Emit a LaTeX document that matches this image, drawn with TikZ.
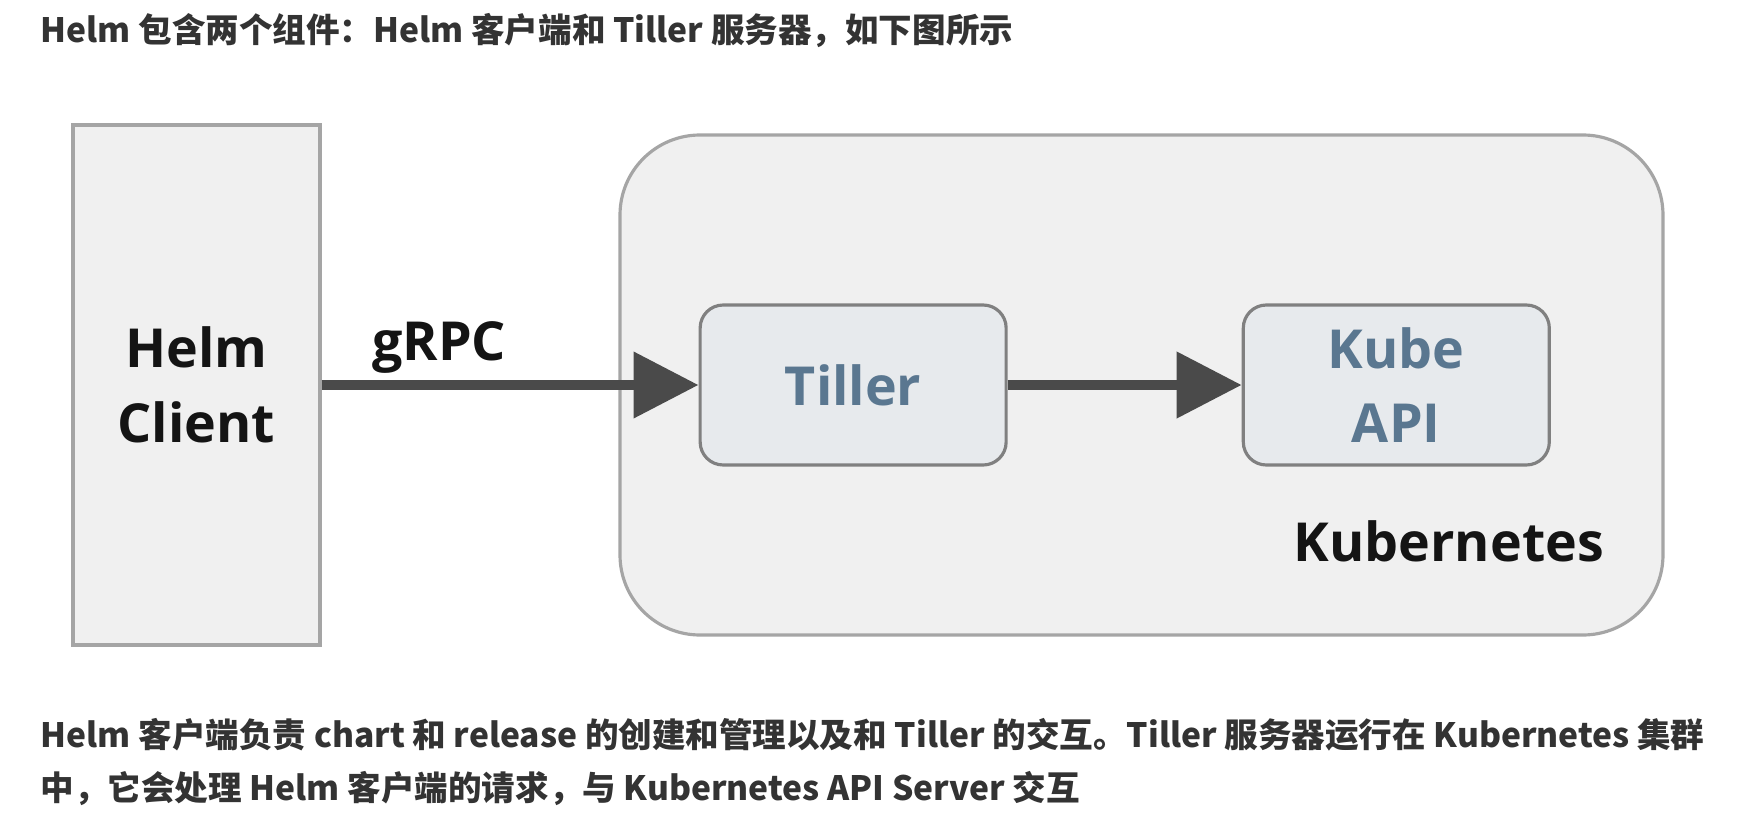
\documentclass[tikz,border=0pt]{standalone}
\usepackage{fontspec}
\setmainfont{Open Sans}
\newfontfamily\cjk{Noto Sans CJK SC}
\usetikzlibrary{arrows.meta, positioning}
\definecolor{boxfill}{HTML}{F0F0F0}
\definecolor{boxline}{HTML}{A5A5A5}
\definecolor{compfill}{HTML}{E7EAED}
\definecolor{compline}{HTML}{808080}
\definecolor{comptext}{HTML}{5A7790}
\definecolor{arrowgrey}{HTML}{4A4A4A}
\definecolor{prosegrey}{HTML}{333333}

\begin{document}
\begin{tikzpicture}[x=0.1mm, y=-0.1mm, node distance=37.7mm,
    biglabel/.style={font=\bfseries\fontsize{15.3}{21.3}\selectfont, text=black!92, align=center, inner sep=0pt},
    clientbox/.style={biglabel, draw=boxline, fill=boxfill, line width=0.9pt, minimum width=24.7mm, minimum height=52mm},
    clusterbox/.style={draw=boxline, fill=boxfill, line width=0.9pt, rounded corners=8mm, minimum width=104.3mm, minimum height=50mm},
    compbox/.style={biglabel, text=comptext, draw=compline, fill=compfill, line width=0.9pt, rounded corners=2.3mm, minimum width=30.6mm, minimum height=16mm},
    flowarrow/.style={draw=arrowgrey, line width=3.1pt, -{Triangle[length=18.5pt, width=18.2pt]}},
    prose/.style={font=\cjk\bfseries\fontsize{9.55}{15}\selectfont, text=prosegrey, inner sep=0pt, anchor=base west}]

    \useasboundingbox[fill=white] (0,0) rectangle (1738,816);

    \node[prose] (title) at (40,43) {Helm 包含两个组件：Helm 客户端和 Tiller 服务器，如下图所示};

    \node[clientbox] (helm) at (196.5,385) {Helm\\Client};
    \node[clusterbox] (k8s) at (1141.5,385) {};
    \node[compbox] (tiller) [right=of helm] {Tiller};
    \node[compbox] (kube) [right=23.4mm of tiller] {Kube\\API};
    \node[biglabel, anchor=base east] (k8slabel) at ([shift={(-60,-75)}]k8s.south east) {Kubernetes};

    \draw[flowarrow] (helm) -- (tiller);
    \draw[flowarrow] (tiller) -- (kube);
    \node[biglabel, anchor=base west] (grpc) at ([shift={(50,-25)}]helm.east) {gRPC};

    \node[prose] (line1) at (40,747) {Helm 客户端负责 chart 和 release 的创建和管理以及和 Tiller 的交互。Tiller 服务器运行在 Kubernetes 集群};
    \node[prose] (line2) at ([shift={(0,53)}]line1.base west) {中，它会处理 Helm 客户端的请求，与 Kubernetes API Server 交互};
\end{tikzpicture}
\end{document}
